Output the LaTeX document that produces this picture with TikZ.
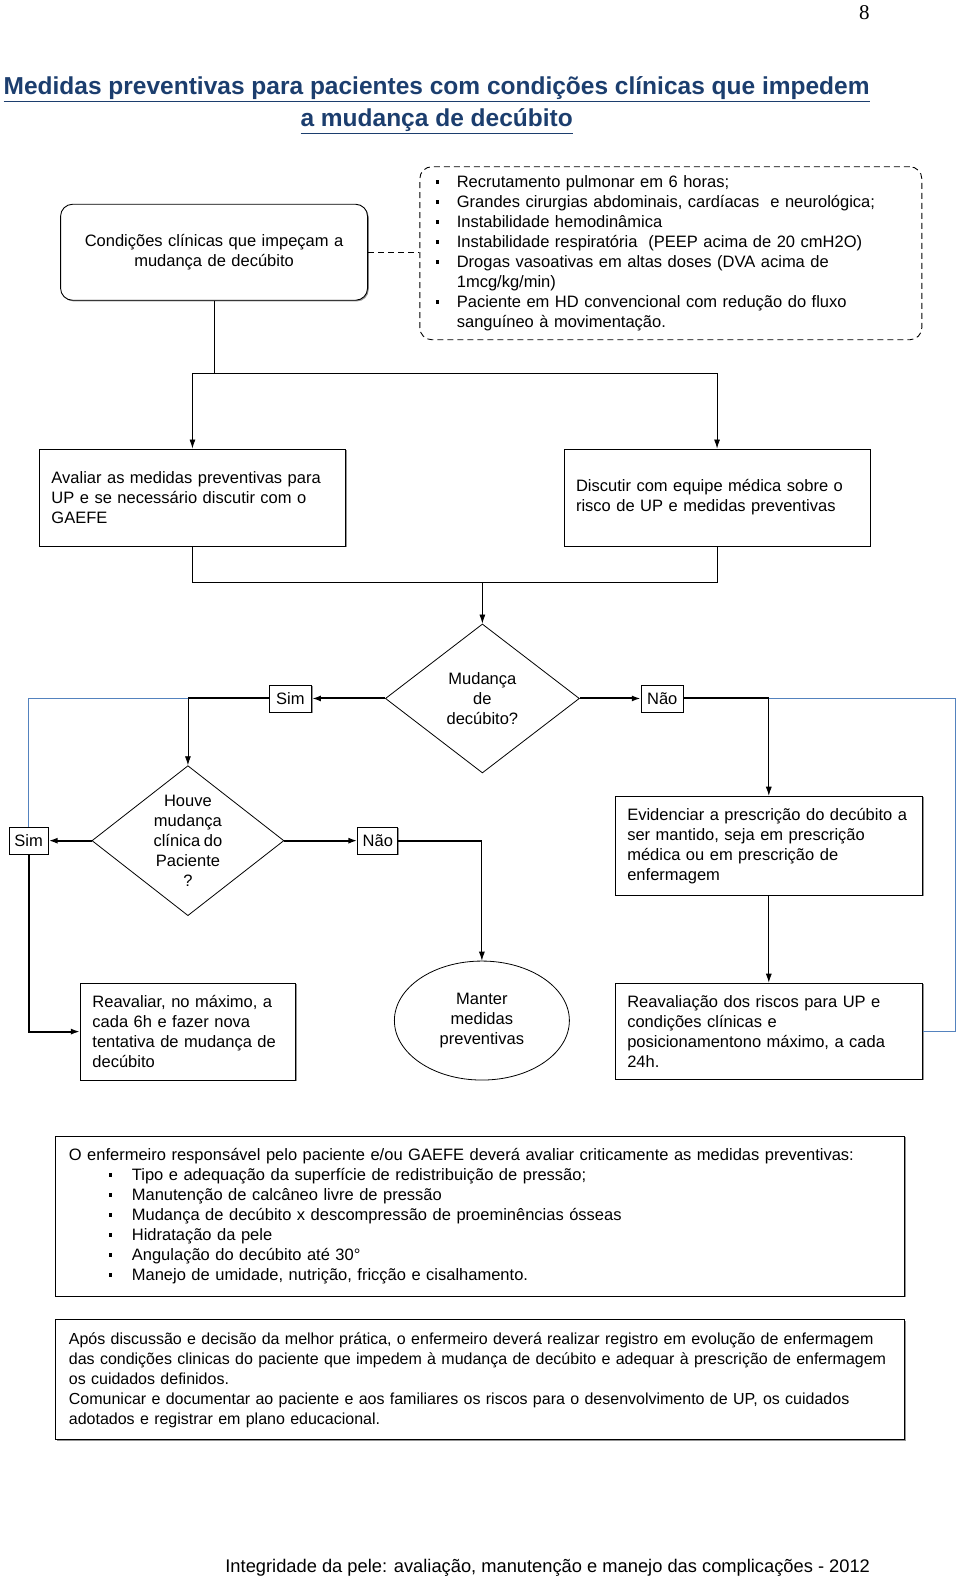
\documentclass[tikz,border=0pt]{standalone}
\usepackage{fontspec}
\setmainfont{Liberation Sans}
\newfontfamily\pagefont{Liberation Serif}
\usetikzlibrary{shapes.geometric, arrows.meta, shadows}
\definecolor{titleblue}{RGB}{28,62,110}
\definecolor{linkblue}{RGB}{84,130,190}
\newcommand{\boxfont}{\fontsize{16.5}{20}\selectfont\spaceskip=0.22em plus 0.1em minus 0.05em\hyphenpenalty=10000}
\newcommand{\notefont}{\fontsize{16}{20}\selectfont\spaceskip=0.2em plus 0.1em minus 0.05em\hyphenpenalty=10000}
\newcommand{\bitem}[1][21pt]{\makebox[#1][l]{\rule[3.5pt]{3.5pt}{4pt}}}
\newcommand{\bcont}[1][21pt]{\hspace*{#1}}
\tikzset{
  >={Latex[length=9pt,width=6pt]},
  every path/.style={line width=0.8pt},
  box/.style={draw, fill=white, line width=0.9pt,
    drop shadow={shadow xshift=1.2pt, shadow yshift=-1.2pt, fill=black!60, opacity=0.7},
    inner xsep=12pt, inner ysep=0pt, align=left, font=\boxfont},
  rbox/.style={box, rounded corners=12pt, align=center},
  dbox/.style={draw, dash pattern=on 6pt off 4pt, line width=0.9pt, rounded corners=12pt,
    inner xsep=16pt, inner ysep=0pt, align=left, font=\boxfont},
  yesno/.style={box, inner xsep=0pt, minimum height=27pt, align=center},
  decision/.style={diamond, draw, line width=0.8pt, inner sep=-20pt, align=center, font=\boxfont},
  endstate/.style={ellipse, draw, line width=0.8pt, inner sep=0pt, align=center, font=\boxfont},
  strong/.style={line width=2pt},
  link/.style={draw=linkblue, line width=0.8pt}
}
\begin{document}
\begin{tikzpicture}[x=1.005pt, y=-1.005pt]
  \useasboundingbox (0,0) rectangle (955.2,1568.2);

  \node[font=\pagefont\fontsize{21}{24}\selectfont] (page) at (860,13) {8};
  \node[text=titleblue, align=center, font=\bfseries\fontsize{24.5}{32}\selectfont] (title) at (434.5,104.5)
    {\underline{Medidas preventivas para pacientes com condições clínicas que impedem}\\
     \underline{a mudança de decúbito}};

  % inicio
  \node[rbox, minimum width=307pt, minimum height=96pt, text width=283pt] (cond) at (213,251)
    {Condições clínicas que impeçam a\\mudança de decúbito};
  \node[dbox, minimum width=502pt, minimum height=173pt, text width=470pt] (lista) at (667.5,252)
    {\bitem Recrutamento pulmonar em 6 horas;\\
     \bitem Grandes cirurgias abdominais, cardíacas\ \ e neurológica;\\
     \bitem Instabilidade hemodinâmica\\
     \bitem Instabilidade respiratória\ \ (PEEP acima de 20 cmH2O)\\
     \bitem Drogas vasoativas em altas doses (DVA acima de\\
     \bcont 1mcg/kg/min)\\
     \bitem Paciente em HD convencional com redução do fluxo\\
     \bcont sanguíneo à movimentação.};
  \draw[dash pattern=on 6pt off 4pt] (cond.east) -- (cond.east -| lista.west);

  \node[box, minimum width=306pt, minimum height=97pt, text width=282pt] (avaliar) at (191.5,495)
    {Avaliar as medidas preventivas para\\UP e se necessário discutir com o\\GAEFE};
  \node[box, minimum width=306pt, minimum height=97pt, text width=282pt] (discutir) at (713.5,495)
    {Discutir com equipe médica sobre o\\risco de UP e medidas preventivas};

  \coordinate (s1) at (213,372);
  \coordinate (s2) at (480,580);
  \draw (cond) -- (s1);
  \draw[->] (s1) -| (avaliar);
  \draw[->] (s1) -| (discutir);
  \draw (avaliar) |- (s2) -| (discutir);

  % decisoes
  \node[decision, minimum width=194pt, minimum height=149pt] (mudanca) at (480,695)
    {Mudança\\de\\decúbito?};
  \draw[->] (s2) -- (mudanca);
  \node[yesno, minimum width=42pt] (simA) at (289,695) {Sim};
  \node[yesno, minimum width=42pt] (naoA) at (659,695) {Não};
  \draw[strong, ->] (mudanca) -- (simA);
  \draw[strong, ->] (mudanca) -- (naoA);

  \node[decision, minimum width=192pt, minimum height=150pt] (houve) at (187,836.5)
    {Houve\\mudança\\clínica do\\Paciente\\?};
  \coordinate (s3) at (187,695);
  \draw[strong] (simA) -- (s3);
  \draw[->] (s3) -- (houve);
  \node[yesno, minimum width=39pt] (simB) at (28.5,836.5) {Sim};
  \node[yesno, minimum width=40pt] (naoB) at (376,836.5) {Não};
  \draw[link] (s3) -| (simB);
  \draw[strong, ->] (houve) -- (simB);
  \draw[strong, ->] (houve) -- (naoB);

  \node[box, minimum width=307pt, minimum height=99pt, text width=283pt] (evid) at (765,841.5)
    {Evidenciar a prescrição do decúbito a\\ser mantido, seja em prescrição\\médica ou em prescrição de\\enfermagem};
  \coordinate (s4) at (765,695);
  \draw[strong] (naoA) -- (s4);
  \draw[->] (s4) -- (evid);

  % resultados
  \node[box, minimum width=215pt, minimum height=97pt, text width=191pt] (reaval) at (187,1026.5)
    {Reavaliar, no máximo, a\\cada 6h e fazer nova\\tentativa de mudança de\\decúbito};
  \node[endstate, minimum width=175pt, minimum height=119pt] (manter) at (479.5,1015.5)
    {Manter\\medidas\\preventivas};
  \node[box, minimum width=307pt, minimum height=96pt, text width=283pt] (riscos) at (765,1026)
    {Reavaliação dos riscos para UP e\\condições clínicas e\\posicionamentono máximo, a cada\\24h.};
  \coordinate (s5) at (479.5,836.5);
  \coordinate (rb) at (951,1026);
  \draw[strong] (naoB) -- (s5);
  \draw[->] (s5) -- (manter);
  \draw[strong, ->] (simB) |- (reaval);
  \draw[->] (evid) -- (riscos);
  \draw[link] (s4) -| (rb) -- (riscos);

  % notas
  \node[box, minimum width=849pt, minimum height=160pt, text width=823pt, inner xsep=13pt] (criticas) at (478,1210)
    {O enfermeiro responsável pelo paciente e/ou GAEFE deverá avaliar criticamente as medidas preventivas:\\
     \hspace*{40pt}\bitem[23pt]Tipo e adequação da superfície de redistribuição de pressão;\\
     \hspace*{40pt}\bitem[23pt]Manutenção de calcâneo livre de pressão\\
     \hspace*{40pt}\bitem[23pt]Mudança de decúbito x descompressão de proeminências ósseas\\
     \hspace*{40pt}\bitem[23pt]Hidratação da pele\\
     \hspace*{40pt}\bitem[23pt]Angulação do decúbito até 30°\\
     \hspace*{40pt}\bitem[23pt]Manejo de umidade, nutrição, fricção e cisalhamento.};
  \node[box, minimum width=849pt, minimum height=120pt, text width=823pt, inner xsep=13pt, font=\notefont] (registro) at (478,1373)
    {Após discussão e decisão da melhor prática, o enfermeiro deverá realizar registro em evolução de enfermagem\\
     das condições clinicas do paciente que impedem à mudança de decúbito e adequar à prescrição de enfermagem\\
     os cuidados definidos.\\
     Comunicar e documentar ao paciente e aos familiares os riscos para o desenvolvimento de UP, os cuidados\\
     adotados e registrar em plano educacional.};

  \node[font=\fontsize{18.3}{22}\selectfont] (rodape) at (545,1560.5)
    {Integridade da pele: avaliação, manutenção e manejo das complicações - 2012};
\end{tikzpicture}
\end{document}
